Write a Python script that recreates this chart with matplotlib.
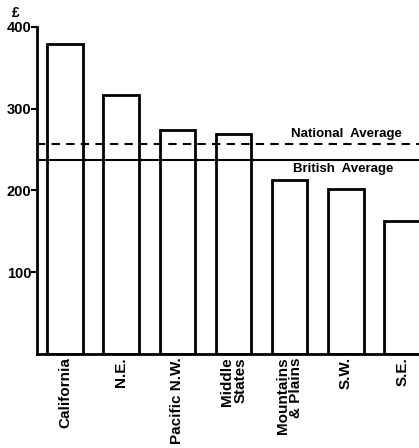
import matplotlib.pyplot as plt
import numpy as np

# data
regions = ["California", "N.E.", "Pacific N.W.", "Middle\nStates",
           "Mountains\n& Plains", "S.W.", "S.E."]
values = [379, 317, 274, 269, 213, 202, 162]
national_avg = 257
british_avg = 237
yticks = [100, 200, 300, 400]

plt.rcParams['font.family'] = ['Liberation Sans', 'DejaVu Sans']

fig = plt.figure(figsize=(4.19, 4.48), dpi=100)
ax = fig.add_axes([0.088, 0.21, 0.912, 0.73])

x = np.arange(len(regions))
ax.bar(x, values, width=0.63, color='white', edgecolor='black', linewidth=2, zorder=2)

# reference lines
ax.axhline(national_avg, color='black', linestyle=(0, (4, 3)), linewidth=1.5, zorder=3)
ax.axhline(british_avg, color='black', linestyle='-', linewidth=1.5, zorder=3)
ax.text(5.0, national_avg + 5, "National  Average", ha='center', va='bottom',
        fontsize=9.5, fontweight='bold')
ax.text(4.95, british_avg - 4, "British  Average", ha='center', va='top',
        fontsize=9.5, fontweight='bold')

ax.set_xlim(-0.5, 6.3)
ax.set_ylim(0, 400)
ax.set_yticks(yticks)
ax.set_yticklabels([str(v) for v in yticks], fontsize=10.5, fontweight='bold')
ax.tick_params(axis='y', direction='out', length=4, width=1.5, pad=0)

ax.set_xticks(x)
ax.set_xticklabels([])
ax.tick_params(axis='x', length=0)
for xi, name in zip(x, regions):
    ax.text(xi, -4, name, rotation=90, ha='center', va='top', multialignment='right',
            fontsize=11, fontweight='bold', linespacing=0.95)

for side in ['top', 'right']:
    ax.spines[side].set_visible(False)
for side in ['left', 'bottom']:
    ax.spines[side].set_linewidth(2)

fig.text(0.038, 0.972, "£", ha='center', va='center', fontsize=10, fontweight='bold')

fig.savefig("out.png", dpi=100)
